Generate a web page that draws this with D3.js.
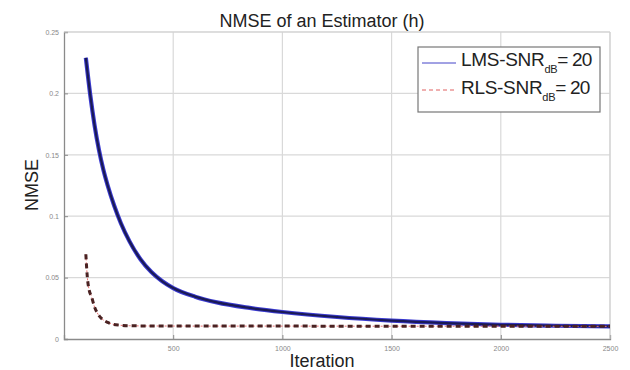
<!DOCTYPE html>
<html>
<head>
<meta charset="utf-8">
<script src="https://cdn.jsdelivr.net/npm/d3@7"></script>
<style>
  body { margin: 0; background: #fff; }
  text { font-family: "Liberation Sans", Arial, sans-serif; }
</style>
</head>
<body>
<svg id="chart" width="630" height="370"></svg>
<script>
// values
var lmsIter = [100, 120, 140, 160, 180, 200, 230, 260, 300, 350, 400, 450, 500, 600, 700, 850, 1000, 1250, 1500, 1750, 2000, 2250, 2500]
var lmsNmse = [0.229, 0.199, 0.174, 0.154, 0.138, 0.125, 0.1085, 0.0945, 0.0795, 0.065, 0.0545, 0.047, 0.0415, 0.0345, 0.0298, 0.0253, 0.022, 0.0179, 0.015, 0.013, 0.0116, 0.0108, 0.0102]
var rlsIter = [100, 107, 115, 126, 140, 150, 165, 180, 200, 220, 250, 300, 400, 700, 1000, 1500, 2000, 2500]
var rlsNmse = [0.069, 0.050, 0.040, 0.0345, 0.026, 0.022, 0.018, 0.0155, 0.0135, 0.0122, 0.0113, 0.0108, 0.0106, 0.0105, 0.0105, 0.0104, 0.0104, 0.0103]
var xTicks = [500, 1000, 1500, 2000, 2500]
var yTicks = [0, 0.05, 0.1, 0.15, 0.2, 0.25]
var legendNames = ['LMS-SNR', 'RLS-SNR']

var svg = d3.select('#chart')
// plot box (note: "top" is taken by window.top)
var pL = 64, pR = 610, pT = 32, pB = 339

var x = d3.scaleLinear().domain([0, 2500]).range([pL, pR])
var y = d3.scaleLinear().domain([0, 0.25]).range([pB, pT])

// grid
var grid = svg.append('g')
grid.selectAll('line.gx').data(xTicks).enter().append('line')
  .attr('x1', d => x(d)).attr('x2', d => x(d))
  .attr('y1', pT).attr('y2', pB)
  .attr('stroke', '#d9d9d9').attr('stroke-width', 1.2)
grid.selectAll('line.gy').data(yTicks.slice(1)).enter().append('line')
  .attr('x1', pL).attr('x2', pR)
  .attr('y1', d => y(d)).attr('y2', d => y(d))
  .attr('stroke', '#d9d9d9').attr('stroke-width', 1.2)

// axes
var xAxis = svg.append('g').attr('transform', `translate(0,${pB})`)
  .call(d3.axisBottom(x).tickValues(xTicks).tickSize(-4).tickPadding(7).tickFormat(d3.format('d')))
var yAxis = svg.append('g').attr('transform', `translate(${pL},0)`)
  .call(d3.axisLeft(y).tickValues(yTicks).tickSize(-4).tickPadding(5).tickFormat(d => d === 0 ? '0' : String(d)))
;[xAxis, yAxis].forEach(a => {
  a.select('.domain').attr('stroke', '#8a8a8a').attr('stroke-width', 1.3)
  a.selectAll('.tick line').attr('stroke', '#8a8a8a')
  a.selectAll('.tick text').attr('fill', '#888').style('font-size', '7px')
})
// box top/right
svg.append('line').attr('x1', pL).attr('x2', pR).attr('y1', pT).attr('y2', pT).attr('stroke', '#cfcfcf')
svg.append('line').attr('x1', pR).attr('x2', pR).attr('y1', pT).attr('y2', pB).attr('stroke', '#cfcfcf')

// lines
var lmsData = lmsIter.map((it, i) => [it, lmsNmse[i]])
var rlsData = rlsIter.map((it, i) => [it, rlsNmse[i]])
var line = d3.line().x(d => x(d[0])).y(d => y(d[1])).curve(d3.curveMonotoneX)

svg.append('path').attr('d', line(lmsData)).attr('fill', 'none')
  .attr('stroke', '#3a3ad0').attr('stroke-width', 4.2)
svg.append('path').attr('d', line(lmsData)).attr('fill', 'none')
  .attr('stroke', '#1a1a55').attr('stroke-width', 2.2)

svg.append('path').attr('d', line(rlsData)).attr('fill', 'none')
  .attr('stroke', '#ee7070').attr('stroke-width', 1).attr('stroke-dasharray', '2,2')
svg.append('path').attr('d', line(rlsData)).attr('fill', 'none')
  .attr('stroke', '#4a2222').attr('stroke-width', 3).attr('stroke-dasharray', '5,4')

// legend
var lg = svg.append('g')
lg.append('rect').attr('x', 418).attr('y', 47).attr('width', 182).attr('height', 65)
  .attr('fill', '#fff').attr('stroke', '#777').attr('stroke-width', 1.2)
lg.append('line').attr('x1', 422).attr('x2', 456).attr('y1', 63).attr('y2', 63)
  .attr('stroke', '#4444c8').attr('stroke-width', 1)
lg.append('line').attr('x1', 422).attr('x2', 456).attr('y1', 90).attr('y2', 90)
  .attr('stroke', '#e06060').attr('stroke-width', 1).attr('stroke-dasharray', '4,3')
legendNames.forEach((name, i) => {
  var t = lg.append('text').attr('x', 461).attr('y', 66 + i * 28)
    .attr('fill', '#222').style('font-size', '19px').attr('letter-spacing', '-0.3')
  t.append('tspan').text(name)
  t.append('tspan').attr('dy', 7).style('font-size', '11px').text('dB')
  t.append('tspan').attr('dy', -7).attr('letter-spacing', '-0.8').text('= 20')
})

// title and labels
svg.append('text').attr('x', 322).attr('y', 27).attr('text-anchor', 'middle')
  .attr('fill', '#222').style('font-size', '18px').text('NMSE of an Estimator (h)')
svg.append('text').attr('x', 322).attr('y', 367).attr('text-anchor', 'middle')
  .attr('fill', '#222').style('font-size', '18px').text('Iteration')
svg.append('text').attr('transform', 'translate(38,185) rotate(-90)').attr('text-anchor', 'middle')
  .attr('fill', '#222').style('font-size', '18px').text('NMSE')
</script>
</body>
</html>
